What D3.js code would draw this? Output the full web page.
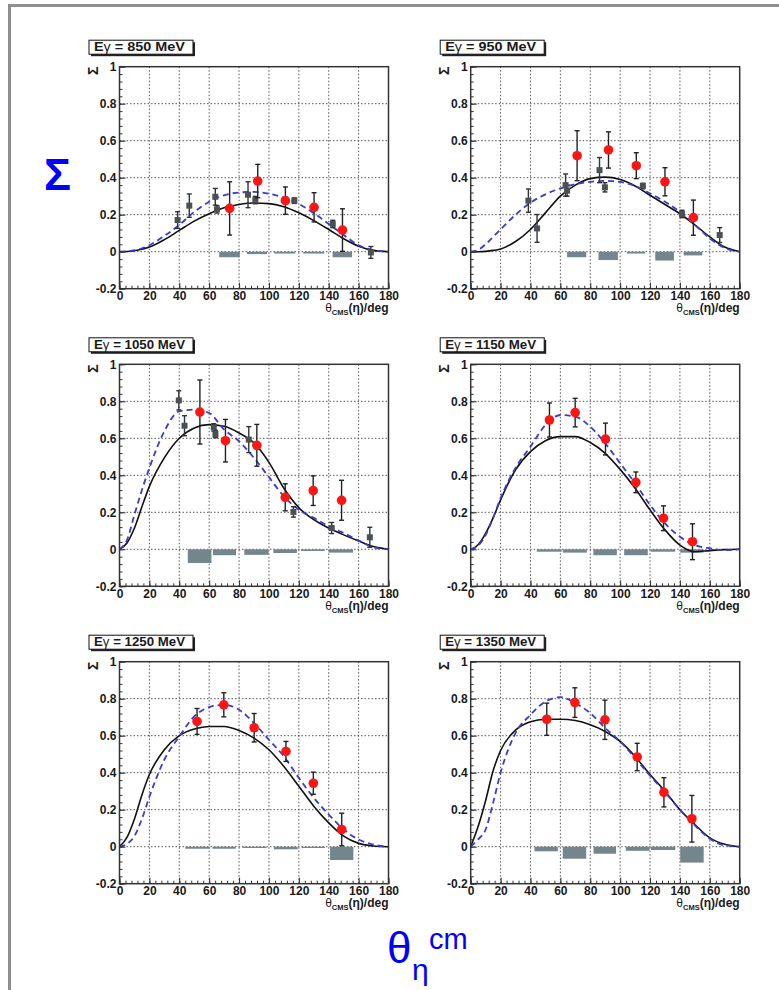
<!DOCTYPE html>
<html>
<head>
<meta charset="utf-8">
<script src="https://cdn.jsdelivr.net/npm/d3@7"></script>
<style>
  body { margin: 0; background: #fff; }
  svg { display: block; font-family: "Liberation Sans", Arial, sans-serif; }
</style>
</head>
<body>
<div id="chart"></div>
<script>
// photon energies, one panel each
const energies = [850, 950, 1050, 1150, 1250, 1350];

const xTicks = [0, 20, 40, 60, 80, 100, 120, 140, 160, 180];
const yTicks = [-0.2, 0, 0.2, 0.4, 0.6, 0.8, 1];

// [theta, sigma, error] - this measurement (red)
const red850 = [[73.7, 0.234, 0.144], [92.5, 0.382, 0.09], [111, 0.276, 0.074], [130.2, 0.24, 0.079], [149.2, 0.117, 0.115]];
const red950 = [[71.2, 0.519, 0.135], [92.2, 0.55, 0.098], [110.8, 0.465, 0.07], [130, 0.378, 0.076], [149, 0.184, 0.095]];
const red1050 = [[53.8, 0.742, 0.173], [70.9, 0.587, 0.115], [91.9, 0.562, 0.113], [110.9, 0.281, 0.073], [129.6, 0.317, 0.08], [148.6, 0.265, 0.108]];
const red1150 = [[52.7, 0.699, 0.092], [69.9, 0.739, 0.077], [90.2, 0.596, 0.086], [110.5, 0.362, 0.056], [129, 0.168, 0.067], [148.4, 0.041, 0.097]];
const red1250 = [[51.9, 0.677, 0.07], [69.8, 0.767, 0.065], [90.1, 0.643, 0.077], [111.4, 0.515, 0.054], [129.7, 0.343, 0.06], [148.7, 0.093, 0.088]];
const red1350 = [[50.9, 0.689, 0.087], [69.7, 0.779, 0.08], [89.8, 0.686, 0.106], [111.4, 0.485, 0.074], [129.3, 0.294, 0.079], [148, 0.151, 0.126]];

// [theta, sigma, error] - previous data (grey squares)
const gray850 = [[38.9, 0.171, 0.045], [46.7, 0.249, 0.063], [64.1, 0.297, 0.045], [65.2, 0.229, 0.02], [86, 0.308, 0.07], [90.9, 0.279, 0.02], [117, 0.276, 0.015], [142.7, 0.15, 0.02], [168.2, -0.004, 0.032]];
const gray950 = [[38.6, 0.276, 0.063], [44.4, 0.126, 0.075], [63.5, 0.36, 0.06], [64.5, 0.33, 0.03], [86.2, 0.441, 0.068], [89.8, 0.348, 0.025], [115.2, 0.355, 0.015], [141.4, 0.204, 0.02], [166.6, 0.09, 0.04]];
const gray1050 = [[39.7, 0.805, 0.052], [43.5, 0.668, 0.054], [63.1, 0.659, 0.02], [64.2, 0.623, 0.02], [86.5, 0.593, 0.07], [116.4, 0.202, 0.028], [142, 0.115, 0.03], [167.5, 0.065, 0.054]];

// [theta from, theta to, systematic] - grey boxes below zero
const sys850 = [[66.7, 80.5, -0.03], [85.3, 98.7, -0.013], [103.5, 117.5, -0.01], [123, 137, -0.01], [142.6, 155.6, -0.03]];
const sys950 = [[64.5, 77.3, -0.03], [85.5, 98.5, -0.045], [104.5, 116.8, -0.01], [123.5, 136, -0.048], [142.5, 155, -0.02]];
const sys1050 = [[45.7, 61.5, -0.074], [62.5, 78, -0.032], [83.5, 99.8, -0.03], [103, 118.7, -0.02], [121.5, 137.3, -0.009], [140, 156.3, -0.018]];
const sys1150 = [[44.2, 60.9, -0.013], [61.6, 77.7, -0.018], [82.1, 97.8, -0.032], [102.7, 118.5, -0.032], [120.5, 136.8, -0.013], [140.2, 155.8, -0.018]];
const sys1250 = [[44, 60.4, -0.011], [62.2, 77.8, -0.011], [82.3, 98.4, -0.007], [103.3, 119.2, -0.014], [121.9, 137.5, -0.007], [140.9, 156.5, -0.072]];
const sys1350 = [[42.7, 58.3, -0.025], [61.6, 77.3, -0.065], [82.2, 97.3, -0.038], [103.8, 119.7, -0.022], [120.6, 136.9, -0.018], [140.2, 155.9, -0.086]];

// model curves, read at these angles
const curveTheta = [0, 5, 10, 15, 20, 30, 40, 50, 60, 70, 80, 90, 100, 110, 120, 130, 140, 150, 160, 170, 180];
const black850 = [0, 0.001, 0.005, 0.013, 0.025, 0.065, 0.115, 0.165, 0.205, 0.237, 0.255, 0.263, 0.26, 0.243, 0.21, 0.168, 0.12, 0.07, 0.03, 0.007, 0];
const blue850 = [0, 0.002, 0.008, 0.018, 0.035, 0.085, 0.145, 0.215, 0.27, 0.305, 0.32, 0.323, 0.314, 0.292, 0.258, 0.208, 0.15, 0.09, 0.035, 0.008, 0];
const black950 = [0, 0, 0.002, 0.007, 0.015, 0.055, 0.12, 0.21, 0.3, 0.36, 0.395, 0.403, 0.39, 0.355, 0.305, 0.255, 0.205, 0.145, 0.08, 0.025, 0];
const blue950 = [0, 0.01, 0.04, 0.08, 0.12, 0.2, 0.265, 0.31, 0.342, 0.365, 0.378, 0.383, 0.377, 0.355, 0.315, 0.27, 0.215, 0.145, 0.072, 0.02, 0];
const black1050 = [0, 0.034, 0.115, 0.23, 0.34, 0.494, 0.6, 0.656, 0.674, 0.665, 0.629, 0.575, 0.47, 0.33, 0.225, 0.16, 0.115, 0.078, 0.045, 0.015, 0];
const blue1050 = [0, 0.05, 0.187, 0.32, 0.44, 0.638, 0.746, 0.755, 0.737, 0.647, 0.584, 0.494, 0.39, 0.286, 0.214, 0.17, 0.124, 0.088, 0.047, 0.011, 0];
const black1150 = [0, 0.025, 0.086, 0.17, 0.267, 0.43, 0.528, 0.587, 0.609, 0.609, 0.577, 0.519, 0.432, 0.33, 0.213, 0.105, 0.023, -0.013, -0.007, -0.002, 0];
const blue1150 = [0, 0.02, 0.077, 0.17, 0.276, 0.44, 0.555, 0.672, 0.726, 0.717, 0.663, 0.573, 0.465, 0.357, 0.24, 0.14, 0.068, 0.023, 0.005, -0.004, 0];
const black1250 = [0, 0.05, 0.15, 0.28, 0.39, 0.524, 0.6, 0.636, 0.65, 0.65, 0.628, 0.587, 0.524, 0.434, 0.327, 0.219, 0.129, 0.057, 0.018, 0.004, 0];
const blue1250 = [0, 0.015, 0.057, 0.15, 0.27, 0.47, 0.596, 0.704, 0.754, 0.767, 0.74, 0.668, 0.578, 0.488, 0.372, 0.264, 0.174, 0.093, 0.039, 0.011, 0];
const black1350 = [0, 0.11, 0.25, 0.41, 0.52, 0.63, 0.675, 0.689, 0.689, 0.682, 0.659, 0.623, 0.569, 0.488, 0.39, 0.3, 0.2, 0.12, 0.048, 0.013, 0];
const blue1350 = [0, 0.04, 0.093, 0.237, 0.4, 0.614, 0.713, 0.785, 0.808, 0.776, 0.722, 0.641, 0.569, 0.479, 0.384, 0.294, 0.2, 0.115, 0.043, 0.007, 0];

const panels = [
  { red: red850, gray: gray850, sys: sys850, black: black850, blue: blue850 },
  { red: red950, gray: gray950, sys: sys950, black: black950, blue: blue950 },
  { red: red1050, gray: gray1050, sys: sys1050, black: black1050, blue: blue1050 },
  { red: red1150, gray: [], sys: sys1150, black: black1150, blue: blue1150 },
  { red: red1250, gray: [], sys: sys1250, black: black1250, blue: blue1250 },
  { red: red1350, gray: [], sys: sys1350, black: black1350, blue: blue1350 },
];

const width = 779;
const height = 990;
const plotW = 269;
const plotH = 222;
const colX = [119.5, 470.7];
const rowY = [66.7, 364.3, 661.7];
const textColor = '#1a1a1a';

const svg = d3.select('#chart')
  .append('svg')
  .attr('width', width)
  .attr('height', height);

// outer frame (only top and left are visible)
svg.append('rect')
  .attr('x', 9.5)
  .attr('y', 5.5)
  .attr('width', 900)
  .attr('height', 1100)
  .attr('fill', 'none')
  .attr('stroke', '#8e8e8e')
  .attr('stroke-width', 3);

const xScale = d3.scaleLinear().domain([0, 180]).range([0, plotW]);
const yScale = d3.scaleLinear().domain([-0.2, 1]).range([plotH, 0]);
const fmt = (d) => String(+d.toFixed(1));

panels.forEach((p, i) => {
  const g = svg.append('g')
    .attr('transform', `translate(${colX[i % 2]},${rowY[Math.floor(i / 2)]})`);

  // Gridlines
  g.append('g')
    .selectAll('line')
    .data(xTicks.slice(1, -1))
    .enter().append('line')
    .attr('x1', (d) => xScale(d)).attr('x2', (d) => xScale(d))
    .attr('y1', 0).attr('y2', plotH)
    .attr('stroke', '#444')
    .attr('stroke-width', 0.9)
    .attr('stroke-dasharray', '1.5,2');

  g.append('g')
    .selectAll('line')
    .data(yTicks.slice(1, -1))
    .enter().append('line')
    .attr('x1', 0).attr('x2', plotW)
    .attr('y1', (d) => yScale(d)).attr('y2', (d) => yScale(d))
    .attr('stroke', '#444')
    .attr('stroke-width', 0.9)
    .attr('stroke-dasharray', '1.5,2');

  // Systematic error boxes
  g.append('g')
    .selectAll('rect')
    .data(p.sys)
    .enter().append('rect')
    .attr('x', (d) => xScale(d[0]))
    .attr('width', (d) => xScale(d[1]) - xScale(d[0]))
    .attr('y', yScale(0))
    .attr('height', (d) => yScale(d[2]) - yScale(0))
    .attr('fill', '#74868d');

  // Model curves
  const line = (vals) => d3.line()
    .x((d, k) => xScale(curveTheta[k]))
    .y((d) => yScale(d))
    .curve(d3.curveMonotoneX)(vals);

  g.append('path')
    .attr('d', line(p.black))
    .attr('fill', 'none')
    .attr('stroke', '#111')
    .attr('stroke-width', 1.6);

  g.append('path')
    .attr('d', line(p.blue))
    .attr('fill', 'none')
    .attr('stroke', '#3b3bcf')
    .attr('stroke-width', 1.8)
    .attr('stroke-dasharray', '6,4');

  // error bars with caps
  function errorBars(data, color) {
    const eb = g.append('g').attr('stroke', color).attr('stroke-width', 1.4);
    eb.selectAll('.v').data(data).enter().append('line')
      .attr('x1', (d) => xScale(d[0])).attr('x2', (d) => xScale(d[0]))
      .attr('y1', (d) => yScale(d[1] + d[2])).attr('y2', (d) => yScale(d[1] - d[2]));
    [1, -1].forEach((s) => {
      eb.selectAll(`.c${s}`).data(data).enter().append('line')
        .attr('x1', (d) => xScale(d[0]) - 2.5).attr('x2', (d) => xScale(d[0]) + 2.5)
        .attr('y1', (d) => yScale(d[1] + s * d[2])).attr('y2', (d) => yScale(d[1] + s * d[2]));
    });
  }

  errorBars(p.gray, '#2f3336');
  g.append('g')
    .selectAll('rect')
    .data(p.gray)
    .enter().append('rect')
    .attr('x', (d) => xScale(d[0]) - 3)
    .attr('y', (d) => yScale(d[1]) - 3)
    .attr('width', 6)
    .attr('height', 6)
    .attr('fill', '#4b5055');

  errorBars(p.red, '#222');
  g.append('g')
    .selectAll('circle')
    .data(p.red)
    .enter().append('circle')
    .attr('cx', (d) => xScale(d[0]))
    .attr('cy', (d) => yScale(d[1]))
    .attr('r', 4.8)
    .attr('fill', '#ff1414');

  // Frame
  g.append('rect')
    .attr('width', plotW)
    .attr('height', plotH)
    .attr('fill', 'none')
    .attr('stroke', '#333')
    .attr('stroke-width', 1.5);

  // Minor ticks
  g.append('g')
    .attr('transform', `translate(0,${plotH})`)
    .call(d3.axisBottom(xScale).tickValues(d3.range(0, 181, 4)).tickSize(-3).tickFormat(''))
    .call((a) => a.select('.domain').remove());
  g.append('g')
    .call(d3.axisLeft(yScale).tickValues(d3.range(-5, 26).map((k) => k * 0.04)).tickSize(-3).tickFormat(''))
    .call((a) => a.select('.domain').remove());

  // Major ticks and labels
  const xAxis = g.append('g')
    .attr('transform', `translate(0,${plotH})`)
    .call(d3.axisBottom(xScale).tickValues(xTicks).tickSize(-6).tickPadding(3).tickFormat(fmt));
  const yAxis = g.append('g')
    .call(d3.axisLeft(yScale).tickValues(yTicks).tickSize(-6).tickPadding(3).tickFormat(fmt));
  [xAxis, yAxis].forEach((a) => {
    a.select('.domain').remove();
    a.selectAll('text')
      .attr('fill', textColor)
      .style('font-size', '12px')
      .style('font-weight', 'bold');
  });
  g.selectAll('.tick line').attr('stroke', '#333');

  // Y axis title
  g.append('text')
    .attr('transform', `translate(-22,0) rotate(-90)`)
    .attr('text-anchor', 'end')
    .attr('fill', textColor)
    .style('font-size', '14px')
    .style('font-weight', 'bold')
    .text('\u03A3');

  // X axis title
  const xt = g.append('text')
    .attr('x', plotW)
    .attr('y', plotH + 23.5)
    .attr('text-anchor', 'end')
    .attr('fill', textColor)
    .style('font-size', '12px');
  xt.append('tspan').text('\u03B8');
  xt.append('tspan').attr('dy', 3).style('font-size', '7.5px').style('font-weight', 'bold').text('CMS');
  xt.append('tspan').attr('dy', -3).style('font-weight', 'bold').text('(\u03B7)/deg');

  // Energy label box
  const lb = g.append('g').attr('transform', 'translate(-30.5,-26.5)');
  lb.append('rect').attr('x', 2).attr('y', 2).attr('width', 104).attr('height', 14).attr('fill', '#222');
  lb.append('rect').attr('width', 104).attr('height', 14).attr('fill', '#fff').attr('stroke', '#111').attr('stroke-width', 1);
  const lt = lb.append('text')
    .attr('x', 5)
    .attr('y', 11)
    .attr('fill', textColor)
    .attr('textLength', 91)
    .attr('lengthAdjust', 'spacingAndGlyphs')
    .style('font-size', '12px')
    .style('font-weight', 'bold');
  lt.append('tspan').text('E');
  lt.append('tspan').style('font-weight', 'normal').text('\u03B3');
  lt.append('tspan').text(` = ${energies[i]} MeV`);
});

// Big axis annotations
svg.append('text')
  .attr('x', 44)
  .attr('y', 190)
  .attr('fill', '#0000ff')
  .style('font-size', '45px')
  .style('font-weight', 'bold')
  .text('\u03A3');

svg.append('text')
  .attr('x', 387)
  .attr('y', 963)
  .attr('fill', '#0000ff')
  .style('font-size', '44px')
  .text('\u03B8');
svg.append('text')
  .attr('x', 412)
  .attr('y', 980)
  .attr('fill', '#0000ff')
  .style('font-size', '30px')
  .text('\u03B7');
svg.append('text')
  .attr('x', 429)
  .attr('y', 949)
  .attr('fill', '#0000ff')
  .style('font-size', '29px')
  .text('cm');
</script>
</body>
</html>
